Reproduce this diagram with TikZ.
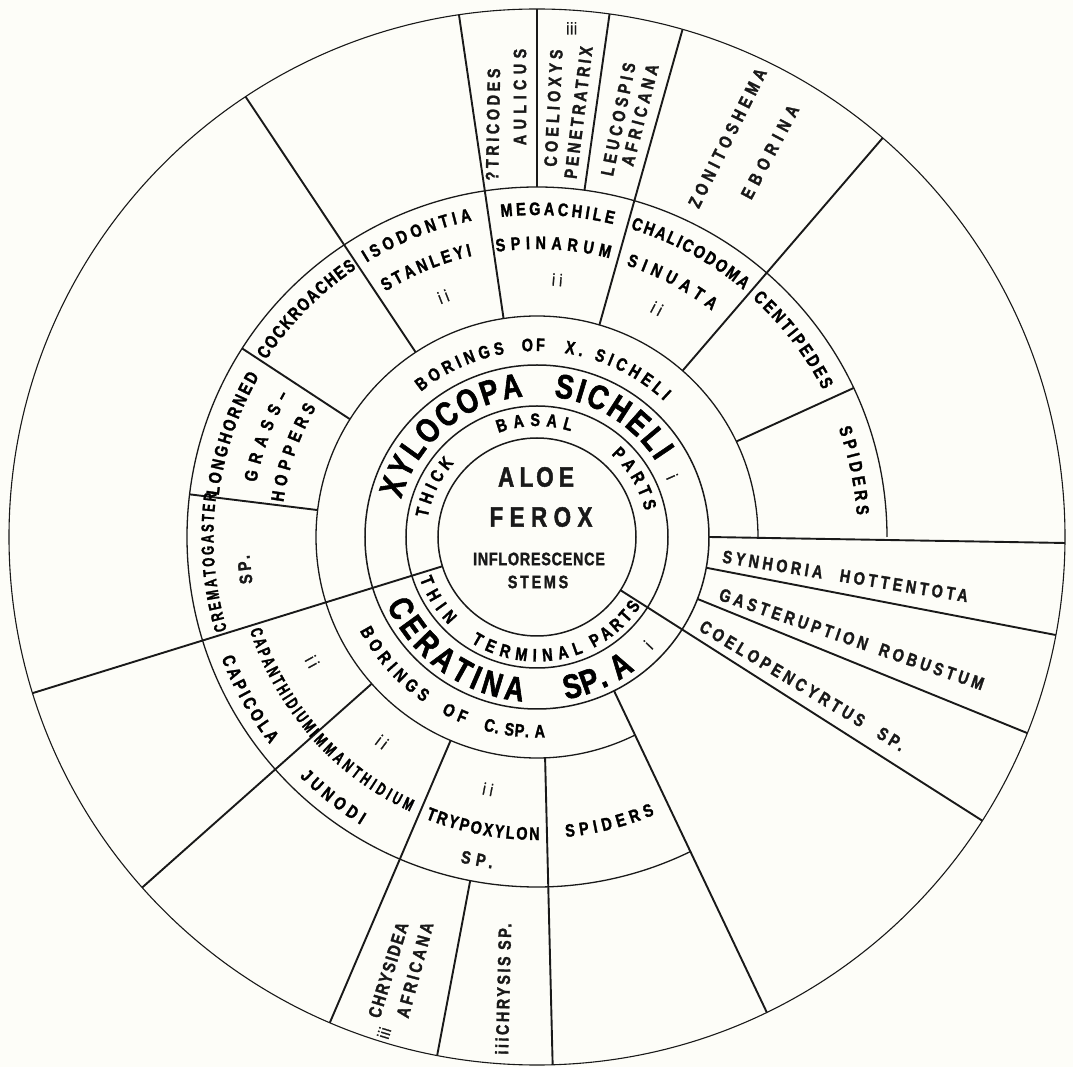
\documentclass[tikz,border=0pt]{standalone}
\usepackage{fontspec}
\usetikzlibrary{decorations.text}
\newfontfamily\labfam{Liberation Sans}[UprightFont=* Bold,FakeStretch=0.8,FakeBold=1.6]
\newfontfamily\narrowfam{Liberation Sans}[UprightFont=* Bold,FakeStretch=0.66,FakeBold=1.4]
\newfontfamily\numfam{Liberation Sans}[FakeStretch=0.8,FakeBold=1.2]
\newcommand\ringfont{\labfam\fontsize{18}{20}\selectfont}
\newcommand\beefont{\labfam\fontsize{34}{36}\selectfont}
\newcommand\plantfont{\labfam\fontsize{28}{30}\selectfont}
\newcommand\narrowfont{\narrowfam\fontsize{17.5}{19}\selectfont}
\newcommand\numfont{\numfam\fontsize{17}{18}\selectfont}
\definecolor{paper}{RGB}{253,253,248}
\definecolor{ink}{RGB}{25,25,25}
% text set along a circle: radius, start angle, end angle, text
\newcommand\arclabel[4]{%
  \path[decorate,decoration={text along path,text align={fit to path},text={#4}}]
    (#2:#1) arc[start angle=#2,end angle=#3,radius=#1];}
\begin{document}
\begin{tikzpicture}[x=1pt,y=1pt,ink,
  ring/.style={draw=ink,line width=1.5pt},
  divider/.style={draw=ink,line width=1.9pt},
  tracked/.style={inner sep=0pt,font=\ringfont\addfontfeatures{LetterSpace=#1}},
  plant/.style={inner sep=0pt,font=\plantfont\addfontfeatures{LetterSpace=#1}},
  numeral/.style={inner sep=0pt,font=\numfont\addfontfeatures{LetterSpace=#1}}]
% Background sets the page
\fill[paper] (-537,-530) rectangle (536,537);
% Rings
\draw[ring] (0,0) circle[radius=99];
\draw[ring] (0,0) circle[radius=131];
\draw[ring] (0,0) circle[radius=172];
\draw[ring,line width=1.3pt] (0:221) arc[start angle=0,end angle=296.4,radius=221];
\draw[ring,line width=1.3pt] (0:350) arc[start angle=0,end angle=296.1,radius=350];
\draw[ring,line width=1.1pt] (0,0) circle[radius=528];
% Radial dividers
\begin{scope}[divider]
  \draw (197.2:99) -- (197.2:528);
  \draw (-32.5:99) -- (-32.5:528);
  \draw (0:172) -- (-0.65:528);
  \draw (-10.3:172) -- (-10.7:528);
  \draw (-21.1:172) -- (-21.8:528);
  \draw (-63.4:172) -- (-64.2:528);
  \draw (272.1:221) -- (271.7:528);
  \draw (259:350) -- (259.1:528);
  \draw (247:221) -- (246.9:528);
  \draw (221.6:221) -- (221.6:528);
  \draw (173:221) -- (173:350);
  \draw (147.8:221) -- (147.4:350);
  \draw (123.3:221) -- (123.5:528);
  \draw (98.7:221) -- (98.5:528);
  \draw (90:350) -- (90:528);
  \draw (82.2:350) -- (82.1:528);
  \draw (73.6:221) -- (74:528);
  \draw (48.8:221) -- (49.1:528);
  \draw (25.6:221) -- (25.2:350);
\end{scope}
% Plant in the middle
\node[plant=19] (aloe) at (-1,60) {AL\hspace{3pt}OE};
\node[plant=23] (ferox) at (4,20) {FEROX};
\node[tracked=4] (inflor) at (2,-22) {INFLORESCENCE};
\node[tracked=15] (stems) at (1,-45) {STEMS};
% Stem parts
\arclabel{111}{110.3}{72.3}{|\ringfont|BASAL}
\arclabel{111}{170}{138.3}{|\ringfont|THICK}
\arclabel{111}{48}{13.6}{|\ringfont|PARTS}
\arclabel{124.5}{199.7}{224.8}{|\ringfont|THIN}
\arclabel{124.5}{238}{291.9}{|\ringfont|TERMINAL}
\arclabel{124.5}{297.1}{326.4}{|\ringfont|PARTS}
% Bees
\arclabel{141}{164.4}{95.6}{|\beefont|XYLOCOPA}
\arclabel{141}{83.2}{32.5}{|\beefont|SICHELI}
\arclabel{165}{204.3}{265}{|\beefont|CERATINA}
\arclabel{165}{280.1}{306.4}{|\beefont|SP. A}
\node[numeral=0,rotate=-66] (xyli) at (24:148) {i};
\node[numeral=0,rotate=46] (ceri) at (315.9:155) {i};
% Borings
\arclabel{186}{128.6}{100}{|\ringfont|BORINGS}
\arclabel{186}{94.6}{87.6}{|\ringfont|OF}
\arclabel{186}{81.5}{47}{|\ringfont|X. SICHELI}
\arclabel{200.5}{207.9}{235.6}{|\ringfont|BORINGS}
\arclabel{200.5}{241.5}{248.7}{|\ringfont|OF}
\arclabel{200.5}{254.4}{272.3}{|\ringfont|C. SP. A}
% Nesting in the borings
\arclabel{323}{121.8}{101.6}{|\ringfont|ISODONTIA}
\arclabel{288.5}{121.7}{103}{|\ringfont|STANLEYI}
\arclabel{322}{96.4}{76.3}{|\ringfont|MEGACHILE}
\arclabel{288}{98.1}{75.4}{|\ringfont|SPINARUM}
\arclabel{322}{73.1}{50.1}{|\ringfont|CHALICODOMA}
\arclabel{286}{71.8}{52.3}{|\ringfont|SINUATA}
\arclabel{321.5}{47.9}{27.2}{|\ringfont|CENTIPEDES}
\arclabel{320.5}{19.8}{3.9}{|\ringfont|SPIDERS}
\arclabel{323.5}{146.8}{123.9}{|\ringfont|COCKROACHES}
\arclabel{321}{172.6}{149.9}{|\ringfont|LONGHORNED}
\arclabel{286}{169}{150.2}{|\ringfont|GRASS–}
\arclabel{256}{172.2}{149.6}{|\ringfont|HOPPERS}
\arclabel{323.5}{196.7}{172.3}{|\narrowfont|CREMATOGASTER}
\arclabel{302}{198}{220.6}{|\narrowfont|CAPANTHIDIUM}
\arclabel{338}{201}{217.8}{|\ringfont|CAPICOLA}
\arclabel{302.5}{221}{245.2}{|\narrowfont|IMMANTHIDIUM}
\arclabel{337.5}{225.3}{238.5}{|\ringfont|JUNODI}
\arclabel{303}{248.4}{270.5}{|\ringfont|TRYPOXYLON}
\arclabel{301.5}{275.5}{293}{|\ringfont|SPIDERS}
\node[tracked=20,rotate=96.4] (cremsp) at (186.4:294) {SP.};
\node[tracked=30,rotate=-10.5] (trysp) at (259.5:328) {SP.};
\node[numeral=25,rotate=21.3] (isoii) at (111.3:258) {ii};
\node[numeral=25,rotate=-4.5] (megii) at (85.5:258) {ii};
\node[numeral=25,rotate=-27.7] (chaii) at (62.3:258) {ii};
\node[numeral=25,rotate=-61] (capii) at (209:257) {ii};
\node[numeral=25,rotate=-37.1] (immii) at (232.9:257) {ii};
\node[numeral=25,rotate=-11] (tryii) at (259:257) {ii};
% Parasites and predators, outer ring
\node[tracked=20,rotate=89] (tricodes) at (-44,412.5) {?TRICODES};
\node[tracked=30,rotate=90] (aulicus) at (-17,440) {AULICUS};
\node[tracked=23,rotate=87] (coelioxys) at (16.5,429) {COELIOXYS};
\node[tracked=18,rotate=83] (penetratrix) at (41.5,424.5) {PENETRATRIX};
\node[numeral=5] (coeliii) at (34.7,508.7) {iii};
\node[tracked=22,rotate=78.5] (leucospis) at (81.3,417.8) {LEUCOSPIS};
\node[tracked=23,rotate=75.6] (leucafr) at (103,422) {AFRICANA};
\node[tracked=26,rotate=63.4] (zonito) at (190.5,399) {ZONITOSHEMA};
\node[tracked=34,rotate=62] (eborina) at (233,385) {EBORINA};
\node[tracked=20,rotate=-9.2] (synhoria) at (308.3,-39.2) {SYNHORIA\hspace{10pt} HOTTENTOTA};
\node[tracked=21,rotate=-19] (gasteru) at (314.7,-102.2) {GASTERUPTION\hspace{5pt} ROBUSTUM};
\node[tracked=21,rotate=-31] (coelop) at (265.5,-148.7) {COELOPENCYRTUS\hspace{10pt} SP.};
\node[tracked=10,rotate=73] (chrysidea) at (-148.7,-433) {CHRYSIDEA};
\node[tracked=18,rotate=75] (chrysafr) at (-122,-433) {AFRICANA};
\node[numeral=5,rotate=73] (chrysiii) at (-153,-496) {iii};
\node[tracked=14,rotate=88.6] (chrysis) at (-33.7,-452) {iiiCHRYSIS SP.};
\end{tikzpicture}
\end{document}
